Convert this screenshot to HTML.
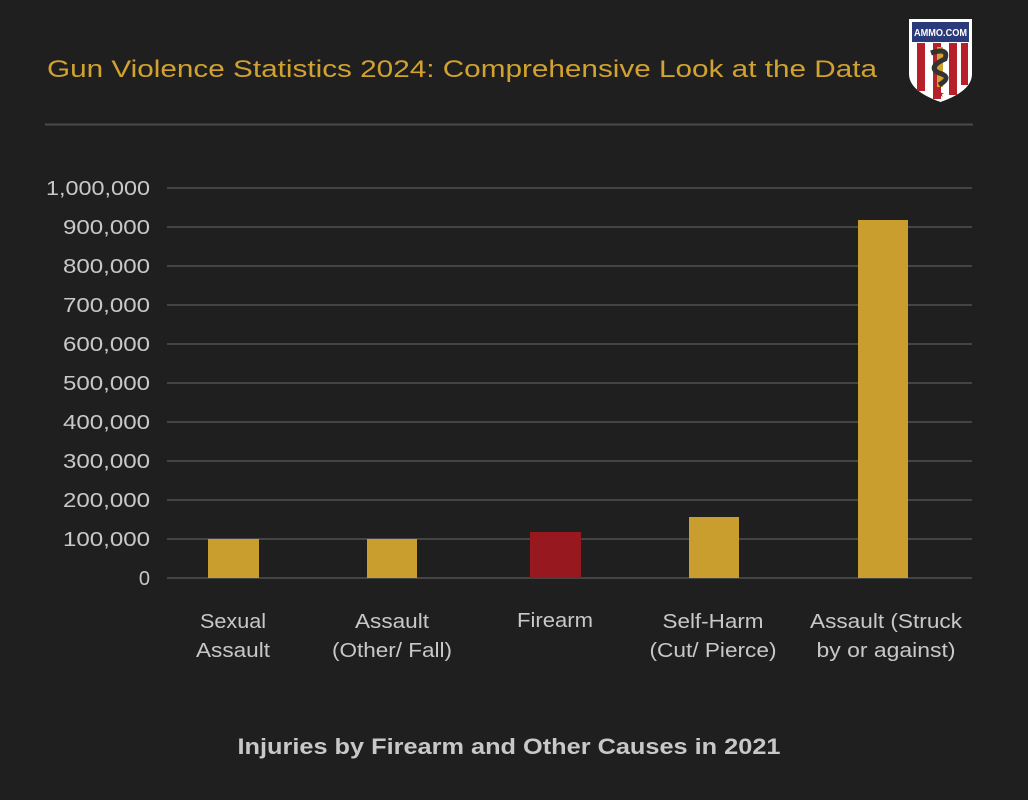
<!DOCTYPE html>
<html><head><style>
body{margin:0;background:#1f1f1f;}
svg{display:block}
</style></head><body>
<svg width="1028" height="800" viewBox="0 0 1028 800" xmlns="http://www.w3.org/2000/svg" font-family="Liberation Sans, sans-serif">
<rect width="1028" height="800" fill="#1f1f1f"/>
<text x="47" y="77" font-size="24" fill="#d1a22f" textLength="830" lengthAdjust="spacingAndGlyphs">Gun Violence Statistics 2024: Comprehensive Look at the Data</text>
<line x1="45" y1="124.5" x2="973" y2="124.5" stroke="#4a4a4a" stroke-width="2"/>
<g transform="translate(909,19)">
<path d="M0,0 H63 V55 Q63,72 31.5,83 Q0,72 0,55 Z" fill="#fff"/>
<rect x="3" y="3" width="57" height="20" fill="#2b3a78"/>
<text x="31.5" y="17" font-size="10" font-weight="bold" fill="#fff" text-anchor="middle" textLength="53" lengthAdjust="spacingAndGlyphs">AMMO.COM</text>
<path d="M4,24 H59 V55 Q59,69 31.5,79 Q4,69 4,55 Z" fill="#fff"/>
<rect x="8" y="24" width="8" height="48" fill="#b5202a"/>
<rect x="24" y="24" width="8" height="56" fill="#b5202a"/>
<rect x="40" y="24" width="8" height="52" fill="#b5202a"/>
<rect x="52" y="24" width="7" height="42" fill="#b5202a"/>
<rect x="28" y="28" width="6" height="40" fill="#d1a22f"/>
<path d="M22,34 Q40,28 36,40 Q18,48 30,54 Q44,58 30,66" stroke="#333" stroke-width="5" fill="none"/>
<text x="31.5" y="78" font-size="9" fill="#b5202a" text-anchor="middle">★</text>
</g>
<g stroke="#444" stroke-width="2">
<line x1="167" y1="188" x2="972" y2="188"/>
<line x1="167" y1="227" x2="972" y2="227"/>
<line x1="167" y1="266" x2="972" y2="266"/>
<line x1="167" y1="305" x2="972" y2="305"/>
<line x1="167" y1="344" x2="972" y2="344"/>
<line x1="167" y1="383" x2="972" y2="383"/>
<line x1="167" y1="422" x2="972" y2="422"/>
<line x1="167" y1="461" x2="972" y2="461"/>
<line x1="167" y1="500" x2="972" y2="500"/>
<line x1="167" y1="539" x2="972" y2="539"/>
<line x1="167" y1="578" x2="972" y2="578"/>
</g>
<g font-size="20" fill="#c8c8c8" text-anchor="end">
<text x="150" y="195" textLength="104" lengthAdjust="spacingAndGlyphs">1,000,000</text>
<text x="150" y="234" textLength="87" lengthAdjust="spacingAndGlyphs">900,000</text>
<text x="150" y="273" textLength="87" lengthAdjust="spacingAndGlyphs">800,000</text>
<text x="150" y="312" textLength="87" lengthAdjust="spacingAndGlyphs">700,000</text>
<text x="150" y="351" textLength="87" lengthAdjust="spacingAndGlyphs">600,000</text>
<text x="150" y="390" textLength="87" lengthAdjust="spacingAndGlyphs">500,000</text>
<text x="150" y="429" textLength="87" lengthAdjust="spacingAndGlyphs">400,000</text>
<text x="150" y="468" textLength="87" lengthAdjust="spacingAndGlyphs">300,000</text>
<text x="150" y="507" textLength="87" lengthAdjust="spacingAndGlyphs">200,000</text>
<text x="150" y="546" textLength="87" lengthAdjust="spacingAndGlyphs">100,000</text>
<text x="150" y="585">0</text>
</g>
<rect x="208" y="539" width="51" height="39" fill="#c99e2e"/>
<rect x="367" y="539" width="50" height="39" fill="#c99e2e"/>
<rect x="530" y="532" width="51" height="46" fill="#97181e"/>
<rect x="689" y="517" width="50" height="61" fill="#c99e2e"/>
<rect x="858" y="220" width="50" height="358" fill="#c99e2e"/>
<g font-size="20" fill="#c8c8c8" text-anchor="middle">
<text x="233" y="628" textLength="66" lengthAdjust="spacingAndGlyphs">Sexual</text><text x="233" y="657" textLength="74" lengthAdjust="spacingAndGlyphs">Assault</text>
<text x="392" y="628" textLength="74" lengthAdjust="spacingAndGlyphs">Assault</text><text x="392" y="657" textLength="120" lengthAdjust="spacingAndGlyphs">(Other/ Fall)</text>
<text x="555" y="627" textLength="76" lengthAdjust="spacingAndGlyphs">Firearm</text>
<text x="713" y="628" textLength="101" lengthAdjust="spacingAndGlyphs">Self-Harm</text><text x="713" y="657" textLength="127" lengthAdjust="spacingAndGlyphs">(Cut/ Pierce)</text>
<text x="886" y="628" textLength="152" lengthAdjust="spacingAndGlyphs">Assault (Struck</text><text x="886" y="657" textLength="139" lengthAdjust="spacingAndGlyphs">by or against)</text>
</g>
<text x="509" y="754" font-size="22" font-weight="bold" fill="#c8c8c8" text-anchor="middle" textLength="543" lengthAdjust="spacingAndGlyphs">Injuries by Firearm and Other Causes in 2021</text>
</svg>
</body></html>
